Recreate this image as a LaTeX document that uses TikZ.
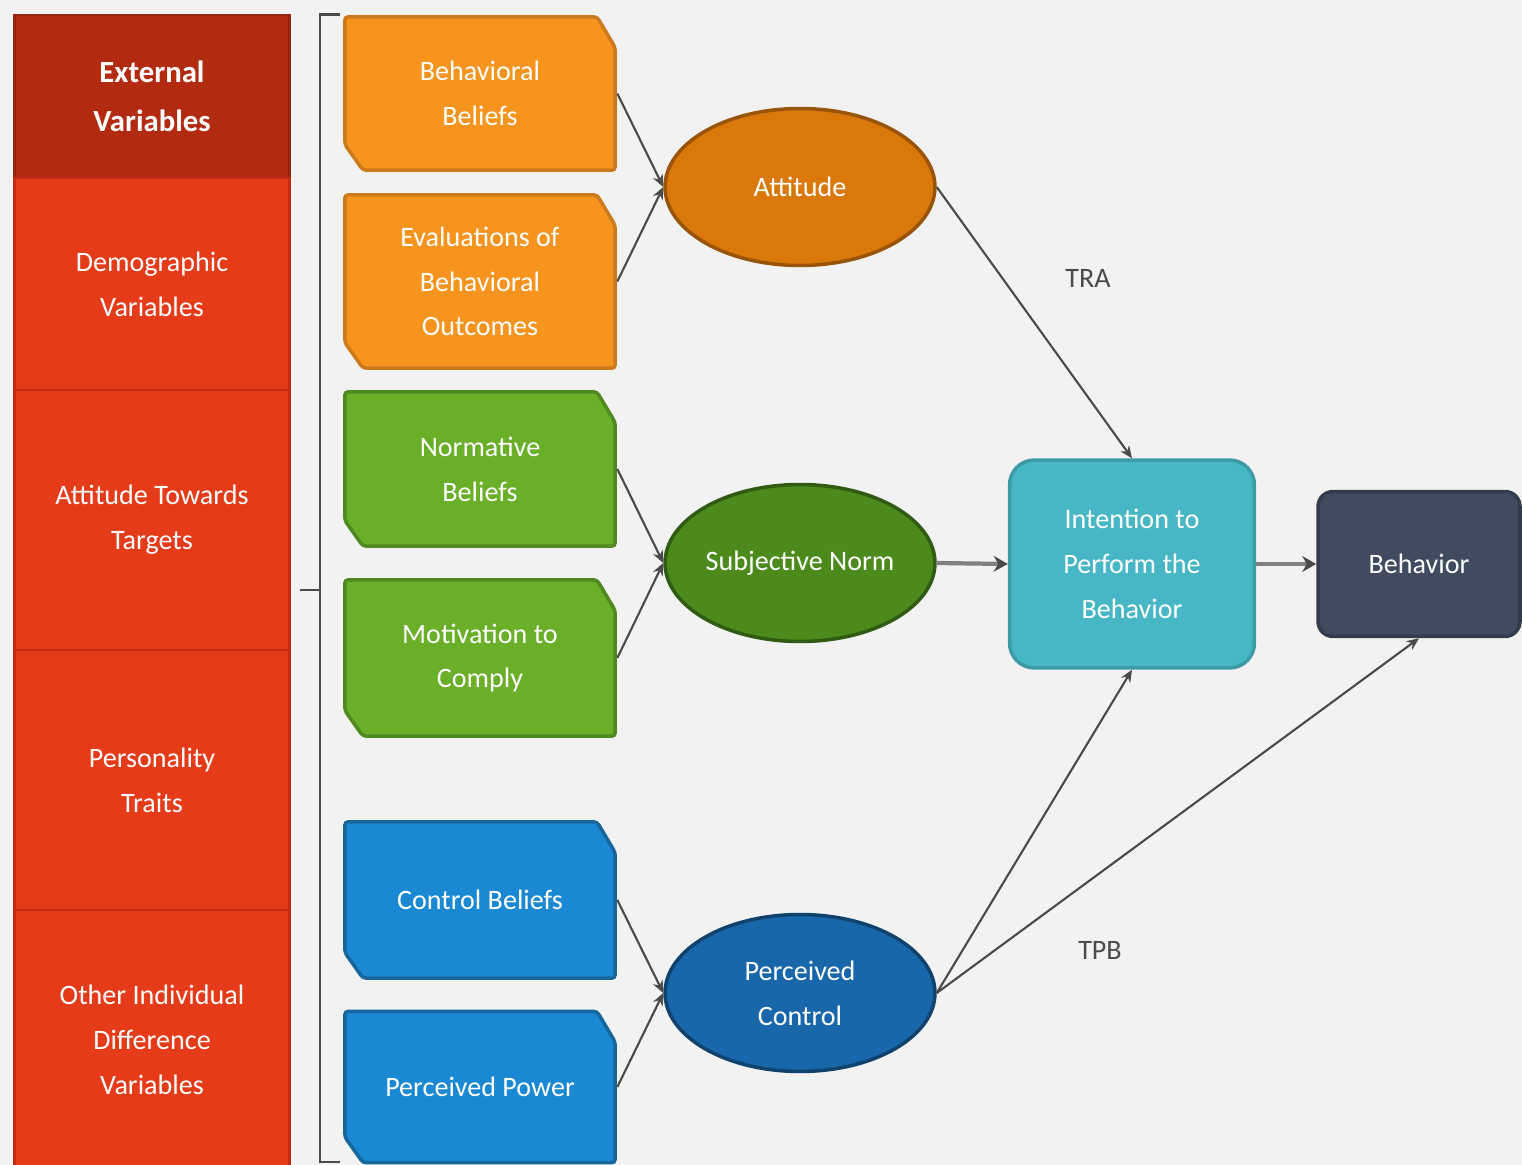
\documentclass[tikz,border=0pt]{standalone}
\usepackage{fontspec}
\setmainfont{Carlito}
\usetikzlibrary{shapes.geometric,arrows.meta}

\definecolor{fondo}{HTML}{F2F2F2}
\definecolor{rojoosc}{HTML}{B22B10}
\definecolor{rojo}{HTML}{E63B19}
\definecolor{rojoborde}{HTML}{C42A0F}
\definecolor{naranja}{HTML}{F7941E}
\definecolor{naranjaborde}{HTML}{CC7A1C}
\definecolor{verde}{HTML}{6AAF28}
\definecolor{verdeborde}{HTML}{4F8A20}
\definecolor{azul}{HTML}{1A88D2}
\definecolor{azulborde}{HTML}{17669E}
\definecolor{actitud}{HTML}{DB780A}
\definecolor{norma}{HTML}{4C8A1C}
\definecolor{control}{HTML}{1767AA}
\definecolor{intencion}{HTML}{47B6C5}
\definecolor{conducta}{HTML}{404B5F}
\definecolor{linea}{HTML}{4A4A4A}
\definecolor{lineaclara}{HTML}{808080}

\tikzset{
  texto/.style={text=white, align=center, inner sep=0pt, font=\fontsize{16}{25.5}\selectfont},
  celda/.style={texto, draw=rojoborde, line width=1.5pt, fill=rojo, minimum width=5.5cm},
  % caja con esquinas recortadas (noreste y suroeste)
  caja/.style 2 args={texto, rectangle, minimum width=5.48cm, path picture={
    \filldraw[line width=2pt, rounded corners=2pt, fill=#1, draw=#2]
      ([shift={(1pt,-1pt)}]path picture bounding box.north west) --
      ([shift={(-0.4cm,-1pt)}]path picture bounding box.north east) --
      ([shift={(-1pt,-0.65cm)}]path picture bounding box.north east) --
      ([shift={(-1pt,1pt)}]path picture bounding box.south east) --
      ([shift={(0.4cm,1pt)}]path picture bounding box.south west) --
      ([shift={(1pt,0.55cm)}]path picture bounding box.south west) -- cycle;}},
  naranjabox/.style={caja={naranja}{naranjaborde}},
  verdebox/.style={caja={verde}{verdeborde}},
  azulbox/.style={caja={azul}{azulborde}},
  elipse/.style={texto, ellipse, line width=2pt, minimum width=5.4cm, minimum height=3.14cm},
  flecha/.style={draw=linea, line width=1.2pt, -{Stealth[length=7pt,width=6pt]}},
  gruesa/.style={draw=lineaclara, line width=2.4pt, -{Stealth[length=8pt,width=9pt,color=linea]}},
  corchete/.style={draw=linea, line width=1.7pt},
  etiqueta/.style={text=linea, font=\fontsize{16}{18}\selectfont, inner sep=0pt}
}

\begin{document}
\begin{tikzpicture}[x=0.02cm, y=-0.02cm]
  % fondo
  \useasboundingbox[fill=fondo] (0,0) rectangle (1522,1165);

  % columna de variables externas
  \node[celda, fill=rojoosc, draw=rojoosc!85!black, minimum height=3.26cm,
    font=\bfseries\fontsize{17.5}{28}\selectfont] (ext) at (152,96.5) {External\\Variables};
  \node[celda, minimum height=4.24cm] (dem) at (152,284) {Demographic\\Variables};
  \node[celda, minimum height=5.2cm] (att) at (152,520) {Attitude Towards\\Targets};
  \node[celda, minimum height=5.2cm] (per) at (152,780) {Personality\\Traits};
  \node[celda, minimum height=5.2cm] (oth) at (152,1040) {Other Individual\\Difference\\Variables};

  % corchete
  \draw[corchete] (340,15) -- (320,15) -- (320,1162) -- (340,1162);
  \draw[corchete] (300,590) -- (320,590);

  % creencias
  \node[naranjabox, minimum height=3.14cm] (bb) at (480,93.5) {Behavioral\\Beliefs};
  \node[naranjabox, minimum height=3.54cm] (ev) at (480,281.5) {Evaluations of\\Behavioral\\Outcomes};
  \node[verdebox, minimum height=3.16cm] (nb) at (480,469) {Normative\\Beliefs};
  \node[verdebox, minimum height=3.2cm] (mc) at (480,658) {Motivation to\\Comply};
  \node[azulbox, minimum height=3.2cm] (cb) at (480,900) {Control Beliefs};
  \node[azulbox, minimum height=3.1cm] (pp) at (480,1087) {Perceived Power};

  % elipses
  \node[elipse, fill=actitud, draw=actitud!70!black] (at) at (800,187) {Attitude};
  \node[elipse, fill=norma, draw=norma!65!black] (sn) at (800,563) {Subjective Norm};
  \node[elipse, fill=control, draw=control!65!black] (pc) at (800,993) {Perceived\\Control};

  % intencion y conducta
  \node[texto, rounded corners=0.5cm, fill=intencion, draw=intencion!85!black, line width=2pt,
    minimum width=4.9cm, minimum height=4.16cm] (in) at (1132,564) {Intention to\\Perform the\\Behavior};
  \node[texto, rounded corners=0.3cm, fill=conducta, draw=conducta!80!black, line width=2pt,
    minimum width=4.04cm, minimum height=2.9cm] (be) at (1419,564) {Behavior};

  % flechas
  \draw[flecha] (bb.east) -- (at.west);
  \draw[flecha] (ev.east) -- (at.west);
  \draw[flecha] (nb.east) -- (sn.west);
  \draw[flecha] (mc.east) -- (sn.west);
  \draw[flecha] (cb.east) -- (pc.west);
  \draw[flecha] (pp.east) -- (pc.west);
  \draw[flecha] (at.east) -- (in.north);
  \draw[flecha] (pc.east) -- (in.south);
  \draw[flecha] (pc.east) -- (be.south);
  \draw[gruesa] (sn.east) -- (in.west);
  \draw[gruesa] (in.east) -- (be.west);

  % etiquetas
  \node[etiqueta] (tra) at (1088,278) {TRA};
  \node[etiqueta] (tpb) at (1100,950) {TPB};
\end{tikzpicture}
\end{document}
